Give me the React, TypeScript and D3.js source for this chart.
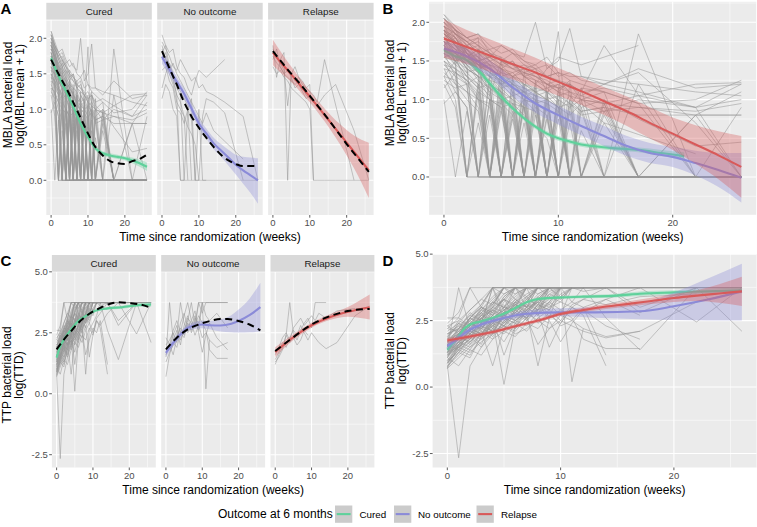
import React from "react";
import * as d3 from "d3";

const N = null;
type Row = (number | null)[];

// visit schedule (weeks since randomization)
const visits = [0, 1, 2, 3, 4, 5, 6, 7, 8, 9, 10, 11, 12, 14, 17, 22, 26];
const outcomes = ["Cured", "No outcome", "Relapse"];
const xTicks = [0, 10, 20];
const xMinor = [5, 15, 25];
const mblaTicks = [0, 0.5, 1, 1.5, 2];
const mblaMinor = [-0.25, 0.25, 0.75, 1.25, 1.75, 2.25];
const ttpTicks = [-2.5, 0, 2.5, 5];
const ttpMinor = [-1.25, 1.25, 3.75];

// MBLA log(MBL mean + 1), one row per patient, values at `visits`
const mblaCured: Row[] = [
  [2.1, 1.9, 1.8, 1.7, 1.6, 1.5, 1.4, 1.35, 1.3, 1.2, 1.25, 1.1, 1.0, 1.1, 0.95, 1.0, 1.25],
  [2.0, 1.85, 1.7, 1.75, 1.6, 1.45, 1.5, 1.3, 1.35, 1.2, 1.15, 1.2, 1.05, 0.95, 1.05, 0.9, 1.2],
  [1.95, 1.7, 1.65, 1.5, 1.55, 1.4, 1.3, 1.25, 1.1, 1.15, 1.0, 0.9, 1.0, 0.85, 0.9, 0.8, 1.1],
  [1.9, 1.8, 1.6, 1.55, 1.4, 1.3, 1.35, 1.2, 1.1, 1.0, 1.05, 0.95, 0.85, 0.9, 0.8, 0.8, 0.8],
  [1.85, 1.75, 1.55, 1.45, 1.35, 1.3, 1.2, 1.1, 1.0, 0, 1.1, 0.95, 0.8, 0.85, 1.0, 0.9, 1.0],
  [2.05, 1.9, 1.7, 1.6, 1.5, 1.4, 1.5, 1.3, 1.2, 1.1, 0, 1.2, 1.0, 0.95, 0, 0.8, 0.8],
  [1.8, 1.6, 1.5, 1.35, 1.2, 0, 1.25, 1.0, 0, 1.05, 0.9, 0, 0.9, 0, 1.85, 0, 0],
  [1.75, 1.5, 1.4, 0, 1.3, 1.1, 0, 1.0, 0.95, 0, 0.85, 0, 0, 0.7, 0, 0, 0],
  [1.7, 1.55, 1.2, 1.3, 0, 1.15, 1.0, 0, 0.9, 0.8, 0, 0.7, 0, 0, 0, 0, 0],
  [1.65, 1.45, 0, 1.25, 1.1, 0, 0.95, 0.9, 0, 0.75, 0, 0, 0.6, 0, 0, 0, 0],
  [1.6, 1.3, 1.2, 0, 1.0, 0.9, 0, 0, 0.8, 0, 0, 0, 0, 0, 0, 0, 0],
  [1.55, 1.4, 0, 1.1, 0, 0.85, 0, 0.7, 0, 0, 0, 0, 0, 0, 0, 0, 0],
  [1.5, 1.2, 1.1, 0.9, 0, 0, 0.75, 0, 0, 0, 0, 0, 0, 0, 0, 0, 0],
  [1.45, 1.3, 0, 0, 0.8, 0, 0, 0, 0, 0, 0, 0, 0, 0, 0, 0, 0],
  [1.4, 1.1, 0.9, 0, 0, 0, 0, 0, 0, 0, 0, 0, 0, 0, 0, 0, 0],
  [1.3, 1.0, 0, 0.7, 0, 0, 0, 0, 0, 0, 0, 0, 0, 0, 0, 0, 0],
  [1.2, 0.9, 0, 0, 0, 0, 0, 0, 0, 0, 0, 0, 0, 0, 0, 0, 0],
  [1.0, 0, 0.85, 0, 0, 0, 0, 0, 0, 0, 0, 0, 0, 0, 0, 0, 0],
  [1.9, 1.75, 1.5, 1.6, 1.45, 1.2, 1.3, 1.4, 0, 1.2, 1.1, 1.25, 0, 1.0, 0, 0, 0],
  [2.0, 1.8, 1.65, 1.7, 1.5, 1.55, 0, 1.35, 1.4, 1.1, 1.2, 0, 1.15, 0, 1.2, 0, 0],
  [1.85, 1.7, 1.6, 1.4, 1.45, 0, 1.3, 1.15, 1.05, 1.1, 0, 1.0, 0.85, 0.9, 0, 0, 0],
  [1.95, 1.8, 1.55, 1.65, 0, 1.4, 1.2, 0, 1.25, 0, 1.15, 0, 0, 0.95, 0, 0, 0],
  [1.7, 1.6, 1.45, 0, 1.35, 1.25, 0, 1.2, 0, 1.1, 0.95, 0, 0, 0, 0, 0, 0],
  [1.6, 1.5, 1.3, 1.2, 0, 1.05, 0, 0, 1.0, 0, 0, 0, 0, 0, 0, 0, 0],
  [1.8, 1.65, 1.4, 1.3, 1.2, 0, 1.1, 0, 0, 0.95, 0, 0, 0, 0, 0, 0, 0],
  [1.9, 1.7, 1.45, 1.35, 1.3, 1.15, 1.2, 1.05, 1.0, 0.95, 0.85, 1.05, 0.9, 1.0, 0.75, 0.4, 0.45],
  [2.05, 1.85, 1.75, 1.6, 1.65, 1.5, 1.45, 1.4, 1.45, 1.3, 1.35, 1.25, 1.2, 1.1, 0, 0, 0.9],
  [1.75, 1.6, 1.5, 1.45, 1.3, 1.35, 1.2, 1.15, 1.1, 0, 1.05, 1.1, 0, 0, 0, 0.8, 0],
  [1.5, 1.35, 1.25, 1.1, 1.0, 0.9, 0.95, 0.8, 0, 0, 0, 0, 0, 0, 0, 0, 0],
  [1.3, 1.25, 1.1, 1.0, 0, 0, 0, 0, 0, 0, 0, 0, 0, 0, 0, 0, 0],
  [2.1, 1.95, 1.8, 1.85, 1.7, 1.6, 1.65, 1.5, 1.45, 1.55, 1.35, 1.3, 1.3, 1.2, 1.4, 1.15, 1.2],
  [1.95, 1.85, 1.75, 1.8, 1.65, 1.7, 1.6, 1.55, 2.0, 1.4, 1.5, 1.92, 1.3, 1.25, 1.2, 1.1, 1.05],
  [1.65, 1.55, 1.35, 1.4, 1.25, 1.2, 1.05, 1.1, 0.95, 1.0, 1.88, 0, 0.85, 0, 0, 0, 0],
  [1.45, 1.4, 1.3, 1.15, 1.2, 1.0, 0, 0.95, 0, 0, 0, 0, 0, 0, 0, 0, 0],
  [1.25, 1.15, 1.2, 1.0, 0.95, 0, 0.8, 0, 0, 0, 0, 0, 0, 0, 0, 0, 0],
  [0.95, 1.1, 0.9, 0, 0, 0, 0, 0, 0, 0, 0, 0, 0, 0, 0, 0, 0],
  [1.85, 1.7, 1.55, 1.5, 1.35, 1.2, 1.15, 0, 1.05, 0, 0.9, 0, 0, 0, 0, 0, 0],
  [1.9, 1.8, 1.6, 1.45, 1.5, 1.3, 0, 1.2, 0, 1.0, 0, 0.85, 0, 0, 0, 0, 0],
  [1.75, 1.7, 1.5, 1.35, 0, 1.25, 1.15, 1.1, 0, 0, 0, 0, 0, 0, 0, 0, 0],
  [2.0, 1.85, 1.7, 1.55, 1.45, 1.35, 1.3, 0, 1.2, 1.1, 0, 0, 1.0, 0, 0, 0, 0],
  [1.6, 1.45, 1.35, 1.2, 1.05, 0, 0, 0.9, 0, 0, 0, 0, 0, 0, 0, 0, 0],
  [1.8, 1.6, 1.45, 1.3, 1.25, 1.1, 0, 0, 0, 0, 0, 0, 0, 0, 0, 0, 0],
  [1.55, 1.5, 1.3, 1.15, 1.0, 0, 0.85, 0, 0, 0, 0, 0, 0, 0, 0, 0, 0],
  [1.95, 1.75, 1.65, 1.5, 1.4, 1.3, 1.2, 1.1, 1.15, 0, 0, 1.0, 0, 0.8, 0, 0, 0],
  [1.7, 1.5, 0, 1.2, 0, 1.0, 0, 0, 0, 0, 0, 0, 0, 0, 0, 0, 0],
  [1.4, 1.35, 1.2, 0, 1.0, 0, 0, 0, 0, 0, 0, 0, 0, 0, 0, 0, 0],
  [1.85, 1.75, 1.6, 1.45, 1.4, 1.2, 1.25, 1.1, 1.05, 1.0, 0.9, 0.95, 0, 0.85, 0, 0, 0],
  [2.0, 1.9, 1.75, 1.65, 1.55, 1.45, 1.4, 1.3, 1.25, 1.2, 1.1, 1.05, 1.0, 0.95, 0.9, 0.85, 0.95],
  [1.65, 1.6, 1.4, 1.3, 1.15, 1.05, 0.95, 0, 0, 0.8, 0, 0, 0, 0, 0, 0, 0],
  [1.9, 1.7, 1.5, 1.4, 1.2, 1.1, 1.0, 0.9, 0, 0, 0, 0, 0, 0, 0, 0, 0],
  [1.5, 1.4, 1.25, 1.05, 0, 0.9, 0, 0, 0, 0, 0, 0, 0, 0, 0, 0, 0],
  [1.75, 1.55, 1.45, 1.25, 1.15, 1.0, 1.05, 0.9, 0.85, 0, 0.75, 0, 0, 0, 0, 0, 0],
  [2.05, 1.9, 1.8, 1.7, 1.6, 1.55, 1.45, 1.35, 1.3, 1.25, 1.15, 1.2, 1.1, 1.15, 1.05, 1.2, 1.22],
  [1.35, 1.2, 1.0, 0.85, 0, 0, 0, 0, 0, 0, 0, 0, 0, 0, 0, 0, 0],
  [1.8, 1.65, 1.55, 1.4, 1.3, 1.25, 1.1, 1.0, 0.95, 0.85, 0, 0, 0, 0, 0, 0, 0],
];
const mblaNoOutcome: Row[] = [
  [2.05, 1.9, 1.8, 1.85, 1.6, 1.5, 1.45, 1.3, 1.2, 1.4, 1.55, 1.5, 1.45, 1.55, 1.7, N, N],
  [1.95, 1.85, 1.75, 1.6, 1.55, 1.7, 1.6, 1.5, 1.4, 1.45, 1.3, 1.35, 1.25, 1.2, 1.1, 0.9, 0],
  [1.85, 1.7, 1.65, 1.5, 1.3, 1.2, 0, 1.0, 1.15, 0, 1.0, 0, 0, N, N, N, N],
  [1.8, 1.9, 1.6, 1.4, 1.2, 0, 0, 0, 0, 0, 0, 0, 0, 0, 0, 0, 0],
  [1.3, 1.5, 1.65, 1.45, 1.2, 1.1, 0.9, 0, N, N, N, N, N, N, N, N, N],
  [1.15, 1.35, 1.25, 1.0, 0.9, 0, 0, N, N, N, N, N, N, N, N, N, N],
  [1.55, 1.6, 1.4, 1.3, 1.0, 0.95, 0.8, 1.0, 0.85, 0, 0, N, N, N, N, N, N],
  [1.75, 1.65, 1.5, 1.35, 1.1, 1.0, 0.9, 0.75, 0.65, 0.5, 0, 0.9, 1.15, 1.1, 0.95, 0, N],
  [1.9, 1.7, 1.55, 1.45, 1.35, 1.25, 1.15, 1.05, 0, N, N, N, N, N, N, N, N],
  [1.7, 1.8, 1.55, 1.65, 1.5, 1.4, 1.3, 1.2, 1.1, 1.0, 0.9, 0.8, 0.95, 0.7, 0.55, 0.3, N],
];
const mblaRelapse: Row[] = [
  [1.9, 1.45, 1.7, 1.8, 0, 1.5, 1.6, 1.45, 1.4, 1.3, 1.35, 0, 0, 0, 0, 0, 0],
  [1.85, 1.75, 1.65, 1.55, 1.05, 1.5, 1.4, 1.45, 1.35, 1.3, 1.25, 1.2, 1.1, 1.7, N, 0, N],
  [1.75, 1.65, 1.6, 1.5, 1.45, 1.4, 1.35, 1.4, 1.3, 1.2, 1.15, 1.1, 1.05, 1.2, 1.35, 0.7, 0],
  [1.7, 1.85, 1.6, 1.5, 1.55, 1.45, 1.3, 1.35, 1.25, 1.15, 1.2, 1.1, N, N, N, N, N],
  [1.6, 1.5, 1.55, 1.45, 1.4, 1.3, 1.25, 1.2, 1.15, 1.1, 1.0, 0, N, N, N, N, N],
];

// TTP log(TTD), one row per patient, values at `visits`
const ttpCured: Row[] = [
  [1.8, 2.4, 2.9, 3.3, 3.74, 3.74, 3.74, 3.74, N, N, N, N, N, N, N, N, N],
  [1.5, 2.0, 2.5, 2.8, 3.1, 3.74, 3.3, 3.74, 3.74, 3.74, N, N, N, N, N, N, N],
  [1.2, 1.6, 2.2, 2.0, 2.6, 2.9, 3.2, 3.0, 3.74, 3.74, 3.74, 3.74, N, N, N, N, N],
  [0.9, 1.4, 1.8, 2.3, 2.1, 2.7, 2.5, 3.0, 3.2, 3.74, 3.4, 3.74, 3.74, N, N, N, N],
  [2.2, 2.6, 3.74, 3.0, 3.74, 3.74, N, N, N, N, N, N, N, N, N, N, N],
  [0.8, -2.66, 0.79, 1.5, 2.0, 2.4, 2.8, 2.6, 3.1, 3.74, 3.74, N, N, N, N, N, N],
  [1.4, 1.9, 2.3, 2.7, 3.0, 3.3, 3.74, 3.74, 3.74, 3.74, 3.74, 3.74, 3.74, 3.74, 3.74, N, N],
  [1.1, 1.7, 2.1, 2.5, 2.4, 2.9, 3.1, 2.8, 3.4, 3.74, 3.74, 3.74, 3.74, 3.74, N, N, N],
  [2.0, 2.2, 2.7, 3.1, 3.74, 3.5, 3.74, 3.74, 3.74, 3.74, N, N, N, N, N, N, N],
  [0.8, 1.2, 1.6, 2.0, 2.5, 0.1, 2.3, 2.7, 2.9, 3.2, 3.74, 3.74, N, N, N, N, N],
  [1.6, 2.1, 1.8, 2.6, 2.3, 2.8, 3.0, 3.3, 3.74, 3.74, 3.74, 3.74, 3.74, 3.74, 3.74, 3.74, 3.74],
  [1.3, 1.8, 2.4, 2.2, 2.8, 2.6, 3.2, 3.74, 3.5, 3.74, 3.74, 3.74, 3.74, N, N, N, N],
  [0.75, 1.3, 1.1, 1.9, 2.3, 2.6, 2.2, 2.9, 3.3, 3.1, 3.74, N, N, N, N, N, N],
  [1.9, 2.5, 2.3, 3.0, 2.8, 3.4, 3.74, 3.74, 3.74, N, N, N, N, N, N, N, N],
  [1.5, 1.9, 2.6, 2.4, 3.0, 3.74, 3.74, 3.4, 3.74, 3.74, 3.74, 3.74, N, N, N, N, N],
  [1.2, 1.5, 2.0, 2.3, 1.9, 2.5, 2.8, 3.2, 2.9, 3.5, 3.74, 3.74, 3.74, 2.6, 1.4, 3.74, N],
  [1.7, 2.2, 2.8, 2.5, 3.2, 3.0, 3.74, 3.74, 3.74, 3.74, 3.74, 3.74, 3.74, 3.74, 3.74, 2.45, 3.74],
  [1.4, 1.8, 2.1, 2.6, 2.9, 2.7, 3.1, 3.4, 3.0, 3.5, 3.3, 3.74, 3.6, 3.74, 3.0, 3.74, 2.1],
  [0.9, 1.6, 1.9, 1.5, 2.2, 2.0, 2.5, 2.3, 2.8, 1.5, 2.4, 3.0, 2.7, 0.8, N, N, N],
  [1.0, 1.3, 1.7, 2.1, 0.8, 2.2, 2.5, 2.8, 0.8, 2.6, 2.9, 3.2, 3.74, N, N, N, N],
  [2.4, 2.8, 3.74, 3.74, 3.74, 3.74, N, N, N, N, N, N, N, N, N, N, N],
  [1.3, 2.0, 2.6, 3.1, 3.74, 3.74, 3.74, 3.74, N, N, N, N, N, N, N, N, N],
  [0.7, 1.1, 1.5, 1.8, 2.2, 1.7, 2.4, 2.1, 2.6, 2.9, 2.5, 3.1, 3.3, 3.74, 3.74, 3.74, N],
  [1.6, 1.4, 2.2, 2.7, 2.5, 3.0, 2.9, 3.4, 3.74, 3.74, 3.74, 3.74, N, N, N, N, N],
  [1.1, 0.8, 1.4, 1.2, 1.8, 2.1, 1.9, 2.4, 2.2, 2.7, 2.4, 3.0, 2.8, 3.3, 3.74, 3.74, 3.74],
  [1.8, 2.1, 2.5, 2.9, 2.7, 3.3, 3.1, 3.74, 3.74, 3.74, 3.74, 3.74, 3.74, 3.74, 3.74, 3.74, 3.74],
  [1.2, 1.7, 1.5, 2.0, 2.4, 2.8, 3.3, 3.0, 3.74, 3.74, N, N, N, N, N, N, N],
  [2.6, 2.6, 2.3, 2.9, 3.4, 3.74, N, N, N, N, N, N, N, N, N, N, N],
  [0.85, 1.5, 2.0, 1.6, 2.6, 1.2, 2.3, 2.9, 3.2, 3.74, 3.74, 3.74, N, N, N, N, N],
  [1.5, 2.2, 2.0, 2.4, 3.0, 3.5, 3.74, 3.74, 3.74, 3.74, 3.74, 3.74, 3.74, 3.74, 2.8, 3.74, 3.74],
  [1.0, 1.5, 1.3, 1.7, 2.0, 2.3, 2.1, 2.6, 1.6, 2.2, 2.7, 2.5, 3.0, 1.2, N, N, N],
  [1.7, 1.9, 2.4, 2.2, 2.7, 3.1, 2.6, 3.2, 3.74, 3.4, 3.74, 3.74, 3.74, N, N, N, N],
  [2.1, 2.4, 2.0, 2.6, 3.0, 2.8, 3.74, 3.3, 3.74, 3.74, N, N, N, N, N, N, N],
  [1.9, 2.3, 2.7, 2.5, 3.1, 3.74, 3.74, 3.74, 3.74, N, N, N, N, N, N, N, N],
  [1.4, 1.6, 2.0, 2.4, 2.6, 2.3, 2.9, 3.2, 3.74, 3.74, 3.74, 3.74, 3.74, N, N, N, N],
  [1.1, 1.9, 2.2, 2.0, 2.5, 2.8, 3.0, 2.7, 3.3, 3.74, 3.74, N, N, N, N, N, N],
  [2.3, 2.5, 2.9, 3.3, 3.1, 3.74, 3.74, 3.74, 3.74, 3.74, 3.74, N, N, N, N, N, N],
  [1.6, 1.8, 2.3, 2.6, 2.9, 2.6, 3.2, 3.5, 3.74, 3.74, 3.74, 3.74, 3.74, 3.74, N, N, N],
  [0.95, 1.4, 1.7, 2.1, 1.8, 2.5, 2.8, 2.5, 3.0, 3.3, 3.74, 3.74, 3.74, 3.74, 3.74, N, N],
  [1.75, 2.0, 2.6, 2.3, 2.9, 3.3, 3.0, 3.74, 3.74, 3.74, N, N, N, N, N, N, N],
  [1.25, 1.7, 2.1, 2.7, 2.5, 2.3, 2.7, 3.1, 2.9, 3.4, 3.2, 3.74, 3.74, 3.74, N, N, N],
  [2.0, 2.3, 2.1, 2.8, 3.2, 3.74, 3.5, 3.74, 3.74, 3.74, 3.74, 3.74, N, N, N, N, N],
  [1.5, 2.0, 2.4, 2.2, 2.7, 3.0, 3.4, 3.74, 3.74, 3.74, 3.74, 3.74, 3.74, 3.74, 3.74, N, N],
  [0.8, 1.3, 1.9, 2.3, 2.1, 2.6, 2.4, 3.0, 2.7, 3.2, 3.74, 3.74, 3.74, N, N, N, N],
  [1.65, 2.2, 2.6, 3.0, 2.8, 3.3, 3.74, 3.74, 3.74, 3.74, 3.74, N, N, N, N, N, N],
  [1.35, 1.5, 2.0, 1.8, 2.4, 2.7, 2.5, 2.9, 3.2, 3.0, 3.5, 3.74, 3.74, 3.74, 3.74, 3.74, N],
  [1.85, 2.4, 2.2, 2.7, 3.2, 3.0, 3.5, 3.74, 3.74, 3.74, N, N, N, N, N, N, N],
  [1.0, 1.6, 1.4, 2.0, 2.3, 2.1, 2.6, 2.9, 3.3, 3.74, 3.74, 3.74, 3.74, 3.74, N, N, N],
  [2.2, 2.1, 2.6, 3.0, 2.7, 3.4, 3.74, 3.74, N, N, N, N, N, N, N, N, N],
  [1.45, 1.9, 2.3, 2.8, 2.5, 3.0, 2.8, 3.3, 3.1, 3.6, 3.74, 3.74, 3.74, 3.74, 3.74, 3.74, 3.74],
  [1.15, 1.5, 1.8, 2.2, 2.6, 2.4, 2.9, 2.6, 3.1, 2.9, 3.4, 3.74, 3.74, 3.74, N, N, N],
  [1.7, 2.0, 2.4, 2.9, 3.3, 3.74, 3.74, 3.74, 3.74, 3.74, 3.74, 3.74, N, N, N, N, N],
  [1.3, 1.9, 1.7, 2.2, 2.0, 2.7, 3.1, 2.8, 3.3, 3.74, 3.74, 3.74, 3.74, N, N, N, N],
  [0.9, 1.4, 1.2, 1.9, 2.4, 2.2, 2.8, 3.2, 3.74, 3.74, N, N, N, N, N, N, N],
  [1.55, 1.8, 2.2, 2.0, 2.6, 2.9, 3.3, 3.0, 3.5, 3.74, 3.74, 3.74, 3.74, 3.74, 3.74, N, N],
];
const ttpNoOutcome: Row[] = [
  [0.7, 1.6, 2.1, 1.9, 2.5, 2.3, 2.9, 2.6, 3.1, 2.9, 3.74, 3.74, 3.74, 3.74, 3.74, N, N],
  [1.5, 3.74, 2.2, 2.6, 2.0, 2.8, 3.2, 2.5, 2.9, 3.74, 3.74, 0.2, 2.2, N, N, N, N],
  [1.8, 2.0, 1.6, 2.3, 2.7, 2.4, 3.0, 3.74, 2.8, 3.2, 2.9, 2.6, 1.8, 1.45, 1.45, N, N],
  [2.0, 2.2, 2.5, 2.1, 2.9, 3.3, 2.7, 3.0, 3.4, 2.6, 3.74, 3.2, 3.0, 3.3, 2.7, N, N],
  [1.6, 1.9, 2.4, 2.8, 2.2, 2.6, 3.1, 2.9, 2.4, 2.8, 2.3, 2.5, 2.2, 1.9, 2.1, N, N],
  [1.3, 1.7, 2.0, 2.4, 3.74, 2.9, 2.5, 2.8, 3.2, 2.5, 1.7, 2.4, 2.9, 2.3, 1.8, N, N],
  [2.3, 2.0, 2.6, 3.0, 2.5, 3.2, 3.74, 3.0, 2.7, 3.74, 3.3, 3.74, 3.74, 3.74, 3.74, N, N],
];
const ttpRelapse: Row[] = [
  [1.2, 1.6, 1.9, 2.4, 3.74, 2.5, 2.2, 2.6, 2.9, 3.1, 2.7, 3.74, 3.74, 3.74, N, N, N],
  [1.4, 1.7, 2.1, 1.9, 2.3, 2.6, 2.4, 2.8, 2.5, 2.2, 2.5, 2.3, 2.1, 1.85, 2.1, 3.2, 3.6],
  [1.6, 1.9, 2.3, 2.5, 2.2, 2.7, 2.9, 3.1, 2.8, 3.0, 3.2, 3.0, 3.3, 3.1, 3.4, 3.5, N],
  [1.3, 1.5, 1.8, 2.4, 2.1, 2.3, 2.0, 2.2, 2.6, 2.4, N, N, N, N, N, N, N],
];

// smoothed fits (estimate, lower, upper) and observed-mean dashed curves
const fitWeeks = [0, 2, 4, 6, 8, 10, 12, 14, 16, 18, 20, 22, 24, 26];

const aCuredMid = [1.72, 1.47, 1.26, 1.04, 0.8, 0.61, 0.45, 0.38, 0.35, 0.33, 0.31, 0.28, 0.24, 0.19];
const aCuredLo = [1.67, 1.43, 1.22, 1.0, 0.77, 0.58, 0.42, 0.35, 0.32, 0.3, 0.28, 0.24, 0.19, 0.13];
const aCuredHi = [1.77, 1.51, 1.3, 1.08, 0.83, 0.64, 0.48, 0.41, 0.38, 0.36, 0.34, 0.32, 0.29, 0.25];
const aCuredObs = [1.7, 1.5, 1.31, 1.1, 0.88, 0.66, 0.47, 0.35, 0.27, 0.24, 0.23, 0.27, 0.3, 0.36];
const aNoOutMid = [1.74, 1.56, 1.39, 1.22, 1.01, 0.8, 0.66, 0.52, 0.42, 0.32, 0.22, 0.14, 0.07, 0.0];
const aNoOutLo = [1.64, 1.48, 1.32, 1.15, 0.94, 0.73, 0.59, 0.44, 0.33, 0.21, 0.08, -0.05, -0.18, -0.33];
const aNoOutHi = [1.84, 1.64, 1.46, 1.29, 1.08, 0.87, 0.73, 0.6, 0.51, 0.43, 0.36, 0.33, 0.32, 0.31];
const aNoOutObs = [1.82, 1.58, 1.35, 1.1, 0.9, 0.74, 0.6, 0.47, 0.36, 0.28, 0.23, 0.2, 0.2, 0.2];
const aRelMid = [1.8, 1.67, 1.55, 1.43, 1.3, 1.18, 1.05, 0.92, 0.79, 0.66, 0.53, 0.4, 0.27, 0.14];
const aRelLo = [1.62, 1.52, 1.43, 1.33, 1.21, 1.1, 0.97, 0.83, 0.68, 0.52, 0.35, 0.17, -0.03, -0.25];
const aRelHi = [1.98, 1.82, 1.67, 1.53, 1.39, 1.26, 1.13, 1.01, 0.9, 0.8, 0.71, 0.63, 0.57, 0.53];
const aRelObs = [1.82, 1.69, 1.56, 1.44, 1.32, 1.19, 1.06, 0.93, 0.79, 0.65, 0.51, 0.38, 0.25, 0.12];

const bCuredWeeks = [0, 1, 2, 3, 4, 5, 6, 7, 8, 9, 10, 11, 12, 13, 15, 17, 19, 21];
const bCuredMid = [1.64, 1.56, 1.51, 1.38, 1.21, 1.04, 0.89, 0.76, 0.65, 0.56, 0.5, 0.46, 0.42, 0.4, 0.37, 0.35, 0.31, 0.27];
const bCuredLo = [1.6, 1.52, 1.47, 1.34, 1.17, 1.0, 0.86, 0.73, 0.62, 0.53, 0.47, 0.43, 0.39, 0.37, 0.34, 0.32, 0.27, 0.22];
const bCuredHi = [1.68, 1.6, 1.55, 1.42, 1.25, 1.08, 0.92, 0.79, 0.68, 0.59, 0.53, 0.49, 0.45, 0.43, 0.4, 0.38, 0.35, 0.32];
const bNoOutMid = [1.66, 1.56, 1.4, 1.16, 0.95, 0.8, 0.66, 0.53, 0.4, 0.31, 0.26, 0.18, 0.09, -0.01];
const bNoOutLo = [1.56, 1.46, 1.29, 1.04, 0.83, 0.68, 0.54, 0.4, 0.27, 0.18, 0.13, 0.02, -0.13, -0.33];
const bNoOutHi = [1.76, 1.66, 1.51, 1.28, 1.07, 0.92, 0.78, 0.66, 0.53, 0.44, 0.39, 0.34, 0.31, 0.31];
const bRelMid = [1.79, 1.68, 1.57, 1.46, 1.35, 1.23, 1.11, 0.98, 0.85, 0.7, 0.56, 0.42, 0.28, 0.13];
const bRelLo = [1.54, 1.46, 1.36, 1.26, 1.16, 1.05, 0.93, 0.8, 0.66, 0.5, 0.35, 0.17, -0.03, -0.27];
const bRelHi = [2.04, 1.9, 1.78, 1.66, 1.54, 1.41, 1.29, 1.16, 1.04, 0.9, 0.77, 0.67, 0.59, 0.53];

const cCuredWeeks = [0, 1, 2, 4, 6, 8, 10, 14, 18, 22, 26];
const cCuredMid = [1.48, 1.95, 2.22, 2.64, 2.98, 3.18, 3.36, 3.5, 3.55, 3.63, 3.66];
const cCuredLo = [1.38, 1.88, 2.16, 2.59, 2.93, 3.13, 3.31, 3.45, 3.49, 3.56, 3.57];
const cCuredHi = [1.58, 2.02, 2.28, 2.69, 3.03, 3.23, 3.41, 3.55, 3.61, 3.7, 3.75];
const cCuredObsWeeks = [0, 2, 4, 6, 9, 12, 15, 17, 20, 23, 26];
const cCuredObs = [1.82, 2.22, 2.57, 2.91, 3.28, 3.52, 3.7, 3.75, 3.72, 3.66, 3.52];
const cNoOutWeeks = [0, 2, 4, 6, 8, 10, 12, 15, 18, 20, 23, 26];
const cNoOutMid = [1.68, 2.09, 2.43, 2.7, 2.8, 2.84, 2.81, 2.8, 2.87, 2.98, 3.22, 3.55];
const cNoOutLo = [1.52, 1.95, 2.3, 2.57, 2.66, 2.69, 2.64, 2.55, 2.52, 2.51, 2.52, 2.55];
const cNoOutHi = [1.84, 2.23, 2.56, 2.83, 2.94, 2.99, 2.98, 3.05, 3.22, 3.45, 3.9, 4.55];
const cNoOutObsWeeks = [0, 3, 6, 9, 12, 15, 17, 20, 23, 26];
const cNoOutObs = [1.82, 2.3, 2.64, 2.84, 2.98, 3.07, 3.07, 2.98, 2.84, 2.6];
const cRelWeeks = [0, 3, 6, 10, 15, 20, 26];
const cRelMid = [1.71, 2.09, 2.43, 2.81, 3.14, 3.36, 3.55];
const cRelLo = [1.51, 1.95, 2.32, 2.71, 3.02, 3.16, 3.04];
const cRelHi = [1.91, 2.23, 2.54, 2.91, 3.26, 3.56, 4.07];
const cRelObsWeeks = [0, 5, 10, 15, 20, 26];
const cRelObs = [1.75, 2.32, 2.84, 3.18, 3.39, 3.48];

const dCuredWeeks = [0, 0.5, 1, 1.5, 2, 3, 4, 5, 6, 7, 8, 9, 10, 12, 15, 17, 20, 23, 26];
const dCuredMid = [1.41, 1.66, 1.91, 2.2, 2.35, 2.47, 2.6, 2.76, 2.97, 3.19, 3.31, 3.35, 3.37, 3.4, 3.44, 3.51, 3.56, 3.6, 3.64];
const dCuredLo = [1.33, 1.59, 1.85, 2.14, 2.29, 2.41, 2.54, 2.7, 2.91, 3.13, 3.25, 3.29, 3.31, 3.34, 3.37, 3.43, 3.48, 3.51, 3.53];
const dCuredHi = [1.49, 1.73, 1.97, 2.26, 2.41, 2.53, 2.66, 2.82, 3.03, 3.25, 3.37, 3.41, 3.43, 3.46, 3.51, 3.59, 3.64, 3.69, 3.75];
const dNoOutWeeks = [0, 1, 2, 3, 5, 7, 10, 13, 17, 20, 23, 26];
const dNoOutMid = [1.54, 1.85, 2.16, 2.35, 2.6, 2.76, 2.81, 2.81, 2.85, 3.04, 3.29, 3.6];
const dNoOutLo = [1.39, 1.72, 2.04, 2.24, 2.49, 2.64, 2.66, 2.61, 2.55, 2.52, 2.5, 2.5];
const dNoOutHi = [1.69, 1.98, 2.28, 2.46, 2.71, 2.88, 2.96, 3.01, 3.15, 3.56, 4.08, 4.64];
const dRelMid = [1.75, 1.9, 2.07, 2.29, 2.5, 2.75, 2.9, 3.03, 3.13, 3.24, 3.35, 3.44, 3.52, 3.6];
const dRelLo = [1.65, 1.82, 2.0, 2.22, 2.43, 2.68, 2.82, 2.94, 3.03, 3.12, 3.2, 3.24, 3.17, 3.05];
const dRelHi = [1.85, 1.98, 2.14, 2.36, 2.57, 2.82, 2.98, 3.12, 3.23, 3.36, 3.5, 3.64, 3.87, 4.15];

const COL = { cured: "#5fd19b", noout: "#8b8bd8", relapse: "#d85a5a" };
const FONT = "Liberation Sans, Arial, Helvetica, sans-serif";
const X_DOMAIN = [-1.3, 27.3];
const MBLA_DOMAIN = [-0.489, 2.265];
const TTP_DOMAIN = [-3.025, 5.005];

type Fit = { weeks: number[]; mid: number[]; lo?: number[]; hi?: number[]; color: string; dashed?: boolean };

const aFits: Fit[][] = [
  [
    { weeks: fitWeeks, mid: aCuredMid, lo: aCuredLo, hi: aCuredHi, color: COL.cured },
    { weeks: fitWeeks, mid: aCuredObs, color: "#000", dashed: true },
  ],
  [
    { weeks: fitWeeks, mid: aNoOutMid, lo: aNoOutLo, hi: aNoOutHi, color: COL.noout },
    { weeks: fitWeeks, mid: aNoOutObs, color: "#000", dashed: true },
  ],
  [
    { weeks: fitWeeks, mid: aRelMid, lo: aRelLo, hi: aRelHi, color: COL.relapse },
    { weeks: fitWeeks, mid: aRelObs, color: "#000", dashed: true },
  ],
];
const bFits: Fit[] = [
  { weeks: bCuredWeeks, mid: bCuredMid, lo: bCuredLo, hi: bCuredHi, color: COL.cured },
  { weeks: fitWeeks, mid: bNoOutMid, lo: bNoOutLo, hi: bNoOutHi, color: COL.noout },
  { weeks: fitWeeks, mid: bRelMid, lo: bRelLo, hi: bRelHi, color: COL.relapse },
];
const cFits: Fit[][] = [
  [
    { weeks: cCuredWeeks, mid: cCuredMid, lo: cCuredLo, hi: cCuredHi, color: COL.cured },
    { weeks: cCuredObsWeeks, mid: cCuredObs, color: "#000", dashed: true },
  ],
  [
    { weeks: cNoOutWeeks, mid: cNoOutMid, lo: cNoOutLo, hi: cNoOutHi, color: COL.noout },
    { weeks: cNoOutObsWeeks, mid: cNoOutObs, color: "#000", dashed: true },
  ],
  [
    { weeks: cRelWeeks, mid: cRelMid, lo: cRelLo, hi: cRelHi, color: COL.relapse },
    { weeks: cRelObsWeeks, mid: cRelObs, color: "#000", dashed: true },
  ],
];
const dFits: Fit[] = [
  { weeks: dCuredWeeks, mid: dCuredMid, lo: dCuredLo, hi: dCuredHi, color: COL.cured },
  { weeks: dNoOutWeeks, mid: dNoOutMid, lo: dNoOutLo, hi: dNoOutHi, color: COL.noout },
  { weeks: fitWeeks, mid: dRelMid, lo: dRelLo, hi: dRelHi, color: COL.relapse },
];

interface PanelProps {
  id: string;
  x0: number; x1: number; yTop: number; yBottom: number;
  yDomain: number[]; yTicks: number[]; yMinor: number[];
  rows: Row[]; fits: Fit[];
  strip?: string; stripTop?: number; yAxis: boolean;
}

function Panel(p: PanelProps) {
  const x = d3.scaleLinear().domain(X_DOMAIN).range([p.x0, p.x1]);
  const y = d3.scaleLinear().domain(p.yDomain).range([p.yBottom, p.yTop]);
  const raw = d3.line<[number, number]>().x((d) => x(d[0])).y((d) => y(d[1]));
  const smooth = d3.line<[number, number]>().x((d) => x(d[0])).y((d) => y(d[1])).curve(d3.curveMonotoneX);
  const band = d3.area<[number, number, number]>()
    .x((d) => x(d[0])).y0((d) => y(d[1])).y1((d) => y(d[2])).curve(d3.curveMonotoneX);
  const clip = `clip-${p.id}`;
  const w = p.x1 - p.x0;
  const inY = (v: number) => v >= p.yDomain[0] && v <= p.yDomain[1];

  return (
    <g>
      <defs>
        <clipPath id={clip}>
          <rect x={p.x0} y={p.yTop} width={w} height={p.yBottom - p.yTop} />
        </clipPath>
      </defs>
      <rect x={p.x0} y={p.yTop} width={w} height={p.yBottom - p.yTop} fill="#EBEBEB" />
      {p.yMinor.filter(inY).map((v) => (
        <line key={"ym" + v} x1={p.x0} x2={p.x1} y1={y(v)} y2={y(v)} stroke="#fff" strokeWidth={0.53} />
      ))}
      {xMinor.map((v) => (
        <line key={"xm" + v} x1={x(v)} x2={x(v)} y1={p.yTop} y2={p.yBottom} stroke="#fff" strokeWidth={0.53} />
      ))}
      {p.yTicks.filter(inY).map((v) => (
        <line key={"yM" + v} x1={p.x0} x2={p.x1} y1={y(v)} y2={y(v)} stroke="#fff" strokeWidth={1.07} />
      ))}
      {xTicks.map((v) => (
        <line key={"xM" + v} x1={x(v)} x2={x(v)} y1={p.yTop} y2={p.yBottom} stroke="#fff" strokeWidth={1.07} />
      ))}
      <g clipPath={`url(#${clip})`}>
        {p.rows.map((r, i) => {
          const pts = visits.map((wk, j) => [wk, r[j]] as [number, number | null])
            .filter((d) => d[1] !== null) as [number, number][];
          return (
            <path key={"r" + i} d={raw(pts) || ""} fill="none" stroke="#969696"
              strokeWidth={0.6} strokeOpacity={0.9} />
          );
        })}
        {p.fits.map((f, i) => {
          const mid = f.weeks.map((wk, j) => [wk, f.mid[j]] as [number, number]);
          return (
            <g key={"f" + i}>
              {f.lo && f.hi && (
                <path d={band(f.weeks.map((wk, j) => [wk, f.lo![j], f.hi![j]] as [number, number, number])) || ""}
                  fill={f.color} fillOpacity={0.35} stroke="none" />
              )}
              <path d={smooth(mid) || ""} fill="none" stroke={f.color}
                strokeWidth={f.dashed ? 2 : 2.1}
                strokeDasharray={f.dashed ? "7 4.5" : undefined} />
            </g>
          );
        })}
      </g>
      {p.strip && (
        <g>
          <rect x={p.x0} y={p.stripTop} width={w} height={p.yTop - (p.stripTop || 0)} fill="#D9D9D9" />
          <text x={p.x0 + w / 2} y={((p.stripTop || 0) + p.yTop) / 2} dy="0.35em" textAnchor="middle"
            fontSize={9.8} fill="#1A1A1A" fontFamily={FONT}>{p.strip}</text>
        </g>
      )}
      {xTicks.map((v) => (
        <g key={"xt" + v}>
          <line x1={x(v)} x2={x(v)} y1={p.yBottom} y2={p.yBottom + 2.7} stroke="#333" strokeWidth={0.8} />
          <text x={x(v)} y={p.yBottom + 11.3} textAnchor="middle" fontSize={9.5} fill="#4D4D4D"
            fontFamily={FONT}>{v}</text>
        </g>
      ))}
      {p.yAxis && p.yTicks.filter(inY).map((v) => (
        <g key={"yt" + v}>
          <line x1={p.x0 - 2.7} x2={p.x0} y1={y(v)} y2={y(v)} stroke="#333" strokeWidth={0.8} />
          <text x={p.x0 - 4} y={y(v)} dy="0.35em" textAnchor="end" fontSize={9.5} fill="#4D4D4D"
            fontFamily={FONT}>{v.toFixed(1)}</text>
        </g>
      ))}
    </g>
  );
}

function YTitle({ x1, x2, cy, l1, l2 }: { x1: number; x2: number; cy: number; l1: string; l2: string }) {
  return (
    <g fontFamily={FONT} fontSize={12} fill="#000" textAnchor="middle">
      <text transform={`translate(${x1},${cy}) rotate(-90)`} dy="0.35em">{l1}</text>
      <text transform={`translate(${x2},${cy}) rotate(-90)`} dy="0.35em">{l2}</text>
    </g>
  );
}

const XTITLE = "Time since randomization (weeks)";

export default function App() {
  const mblaGroups = [mblaCured, mblaNoOutcome, mblaRelapse];
  const ttpGroups = [ttpCured, ttpNoOutcome, ttpRelapse];

  // facet rows: left/right extents and gap
  const aLeft = 46.3, aRight = 373.6, cLeft = 51.9, cRight = 374.4, gap = 5.4;
  const aW = (aRight - aLeft - 2 * gap) / 3;
  const cW = (cRight - cLeft - 2 * gap) / 3;

  const legendKeys = [
    { label: outcomes[0], color: COL.cured, kx: 335, tx: 359.5 },
    { label: outcomes[1], color: COL.noout, kx: 394, tx: 418 },
    { label: outcomes[2], color: COL.relapse, kx: 476.5, tx: 501 },
  ];

  return (
    <svg width={757} height={527} style={{ position: "absolute", left: 0, top: 0, background: "#fff" }}>
      <rect x={0} y={0} width={757} height={527} fill="#fff" />

      {/* A */}
      {outcomes.map((o, i) => (
        <Panel key={"A" + i} id={"A" + i} x0={aLeft + i * (aW + gap)} x1={aLeft + i * (aW + gap) + aW}
          yTop={19.5} yBottom={215} yDomain={MBLA_DOMAIN} yTicks={mblaTicks} yMinor={mblaMinor}
          rows={mblaGroups[i]} fits={aFits[i]} strip={o} stripTop={2.8} yAxis={i === 0} />
      ))}
      <YTitle x1={7.5} x2={19.6} cy={95} l1="MBLA bacterial load" l2="log(MBL mean + 1)" />
      <text x={(aLeft + aRight) / 2} y={241} textAnchor="middle" fontSize={12} fontFamily={FONT}>{XTITLE}</text>

      {/* B */}
      <Panel id="B" x0={429.1} x1={756.2} yTop={1.8} yBottom={214.8} yDomain={MBLA_DOMAIN}
        yTicks={mblaTicks} yMinor={mblaMinor} rows={[...mblaCured, ...mblaNoOutcome, ...mblaRelapse]}
        fits={bFits} yAxis={true} />
      <YTitle x1={389.5} x2={401.3} cy={93} l1="MBLA bacterial load" l2="log(MBL mean + 1)" />
      <text x={(429.1 + 756.2) / 2} y={241} textAnchor="middle" fontSize={12} fontFamily={FONT}>{XTITLE}</text>

      {/* C */}
      {outcomes.map((o, i) => (
        <Panel key={"C" + i} id={"C" + i} x0={cLeft + i * (cW + gap)} x1={cLeft + i * (cW + gap) + cW}
          yTop={271.7} yBottom={467.5} yDomain={TTP_DOMAIN} yTicks={ttpTicks} yMinor={ttpMinor}
          rows={ttpGroups[i]} fits={cFits[i]} strip={o} stripTop={255} yAxis={i === 0} />
      ))}
      <YTitle x1={6.5} x2={18.5} cy={375} l1="TTP bacterial load" l2="log(TTD)" />
      <text x={(cLeft + cRight) / 2} y={493.8} textAnchor="middle" fontSize={12} fontFamily={FONT}>{XTITLE}</text>

      {/* D */}
      <Panel id="D" x0={432.6} x1={756.6} yTop={254} yBottom={467.5} yDomain={TTP_DOMAIN}
        yTicks={ttpTicks} yMinor={ttpMinor} rows={[...ttpCured, ...ttpNoOutcome, ...ttpRelapse]}
        fits={dFits} yAxis={true} />
      <YTitle x1={390} x2={401.5} cy={360.7} l1="TTP bacterial load" l2="log(TTD)" />
      <text x={(432.6 + 756.6) / 2} y={493.8} textAnchor="middle" fontSize={12} fontFamily={FONT}>{XTITLE}</text>

      {/* panel tags */}
      <g fontFamily={FONT} fontSize={15} fontWeight="bold">
        <text x={0.5} y={14}>A</text>
        <text x={382.5} y={14}>B</text>
        <text x={0.5} y={265.5}>C</text>
        <text x={382.5} y={265.5}>D</text>
      </g>

      {/* legend */}
      <text x={218} y={518.3} fontSize={12} fontFamily={FONT}>Outcome at 6 months</text>
      {legendKeys.map((k) => (
        <g key={k.label}>
          <rect x={k.kx} y={505.5} width={17.3} height={17.3} fill="#CBCBCB" />
          <line x1={k.kx + 1.7} x2={k.kx + 15.6} y1={514.1} y2={514.1} stroke={k.color} strokeWidth={2.1} />
          <text x={k.tx} y={517.6} fontSize={9.8} fontFamily={FONT} fill="#000">{k.label}</text>
        </g>
      ))}
    </svg>
  );
}
